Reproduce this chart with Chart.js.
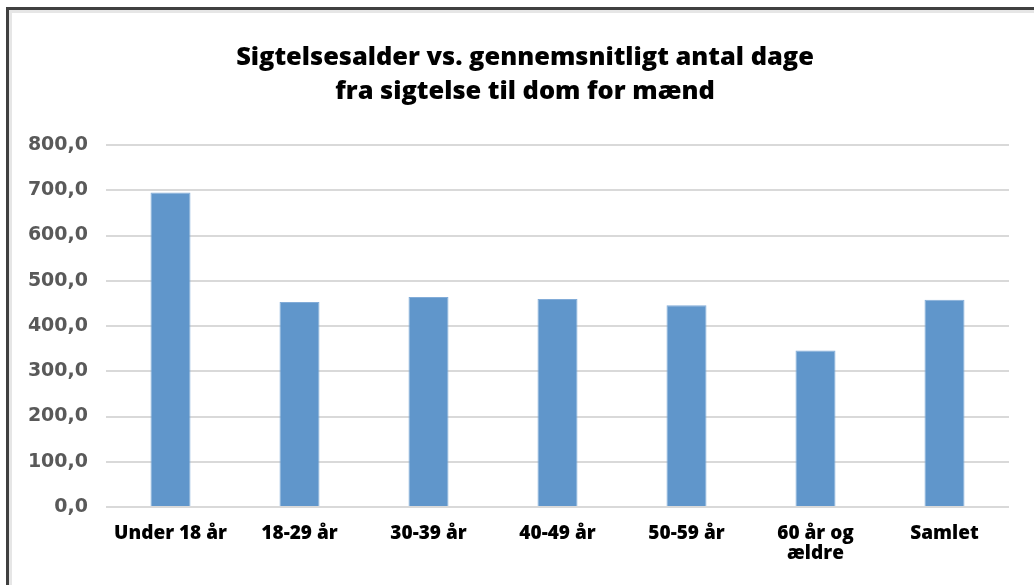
<!DOCTYPE html>
<html>
<head>
<meta charset="utf-8">
<script src="https://cdn.jsdelivr.net/npm/chart.js@4"></script>
<style>
  html, body { margin: 0; padding: 0; background: #fff; overflow: hidden; }
  #frame {
    position: absolute; left: 6px; top: 7px; width: 1100px; height: 700px;
    border-top: 3px solid #404040; border-left: 3px solid #404040;
    box-shadow: inset 3px 3px 0 #e6e6e6;
  }
  #wrap { position: absolute; left: 0; top: 0; width: 1034px; height: 585px; }
</style>
</head>
<body>
<div id="frame"></div>
<div id="wrap"><canvas id="chart"></canvas></div>
<script>
// kategorier og gennemsnitligt antal dage
let categories = ['Under 18 år', '18-29 år', '30-39 år', '40-49 år', '50-59 år', ['60 år og', 'ældre'], 'Samlet']
let avgDays = [695, 453, 464, 460, 446, 346, 458]
let yTicks = [0, 100, 200, 300, 400, 500, 600, 700, 800]

let titleLines = ['Sigtelsesalder vs. gennemsnitligt antal dage', 'fra sigtelse til dom for mænd']

let ctx = document.getElementById('chart').getContext('2d')
let chart = new Chart(ctx, {
    type: 'bar',
    data: {
        labels: categories,
        datasets: [{
            label: 'Dage',
            data: avgDays,
            backgroundColor: '#6096cb',
            borderColor: '#82acd8',
            borderWidth: 1,
            categoryPercentage: 1,
            barPercentage: 0.31
        }]
    },
    options: {
        responsive: true,
        maintainAspectRatio: false,
        animation: false,
        layout: { padding: { left: 16, right: 0, top: 0, bottom: 0 } },
        plugins: {
            legend: { display: false },
            tooltip: { enabled: false },
            title: {
                display: true,
                text: titleLines,
                color: '#000',
                font: { family: 'Open Sans', size: 25.4, weight: 800, lineHeight: 1.34 },
                padding: { top: 41, bottom: 36 }
            }
        },
        scales: {
            y: {
                min: 0,
                max: 800,
                afterBuildTicks: scale => { scale.ticks = yTicks.map(v => ({ value: v })) },
                afterFit: scale => { scale.width = 90 },
                border: { display: false },
                grid: { color: '#d9d9d9', lineWidth: 2, drawTicks: false },
                ticks: {
                    color: '#595959',
                    padding: 18,
                    font: { family: 'DejaVu Sans', size: 19, weight: 'bold' },
                    callback: v => v.toFixed(1).replace('.', ',')
                }
            },
            // tom højre akse, kun for at holde plads til højre margen
            yRight: {
                position: 'right',
                display: true,
                afterFit: scale => { scale.width = 25 },
                border: { display: false },
                grid: { display: false, drawTicks: false },
                ticks: { display: false }
            },
            x: {
                afterFit: scale => { scale.height = 78 },
                border: { display: false },
                grid: { display: false, drawTicks: false },
                ticks: {
                    color: '#000',
                    padding: 17,
                    maxRotation: 0,
                    autoSkip: false,
                    font: { family: 'Open Sans', size: 19, weight: 800, lineHeight: 1.05 }
                }
            }
        }
    }
})
</script>
</body>
</html>
